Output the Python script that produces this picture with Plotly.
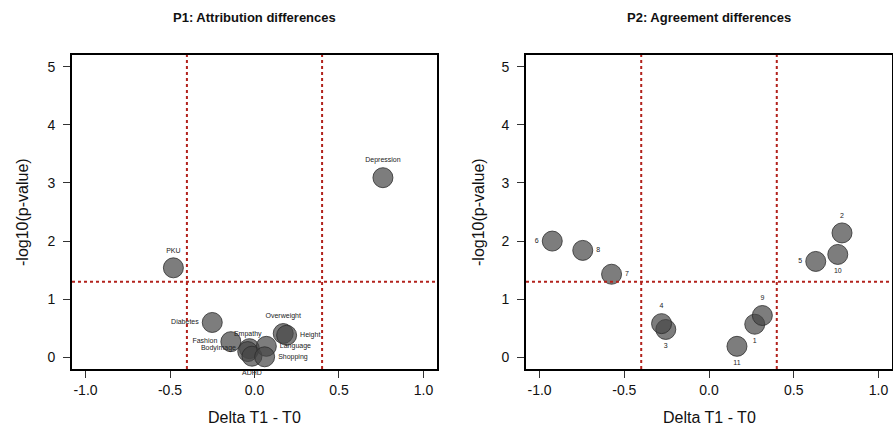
import plotly.graph_objects as go

# ---- Data ----
p1_labels = ["Depression", "PKU", "Diabetes", "Fashion", "Bodyimage", "Empathy",
             "ADHD", "Overweight", "Height", "Language", "Shopping"]
p1_delta = [0.76, -0.48, -0.25, -0.14, -0.03, -0.04, -0.015, 0.17, 0.19, 0.07, 0.06]
p1_logp = [3.09, 1.54, 0.60, 0.27, 0.15, 0.10, 0.02, 0.41, 0.38, 0.19, 0.01]
p1_pos = ["top center", "top center", "middle left", "middle left", "middle left",
          "top center", "bottom center", "top center", "middle right", "middle right",
          "middle right"]

p2_labels = ["1", "2", "3", "4", "5", "6", "7", "8", "9", "10", "11"]
p2_delta = [0.27, 0.785, -0.255, -0.28, 0.63, -0.925, -0.575, -0.745, 0.315, 0.76, 0.165]
p2_logp = [0.57, 2.14, 0.48, 0.58, 1.65, 2.00, 1.43, 1.84, 0.72, 1.77, 0.19]
p2_pos = ["bottom center", "top center", "bottom center", "top center", "middle left",
          "middle left", "middle right", "middle right", "top center", "bottom center",
          "bottom center"]

delta_thresholds = [-0.4, 0.4]
logp_threshold = 1.3

x_ticks = [-1.0, -0.5, 0.0, 0.5, 1.0]
x_ticklabels = ["-1.0", "-0.5", "0.0", "0.5", "1.0"]
y_ticks = [0, 1, 2, 3, 4, 5]

titles = ["P1: Attribution differences", "P2: Agreement differences"]
x_title = "Delta T1 - T0"
y_title = "-log10(p-value)"

# ---- Figure ----
W, H = 893, 437
FONT = "Liberation Sans, Arial, sans-serif"
fig = go.Figure()

marker = dict(size=20, color="rgba(70,70,70,0.7)",
              line=dict(color="rgba(45,45,45,0.8)", width=1))

fig.add_trace(go.Scatter(x=p1_delta, y=p1_logp, mode="markers+text", text=p1_labels,
                         textposition=p1_pos, marker=marker,
                         textfont=dict(size=7, color="#222", family=FONT),
                         xaxis="x", yaxis="y", showlegend=False, cliponaxis=False,
                         hoverinfo="skip"))
fig.add_trace(go.Scatter(x=p2_delta, y=p2_logp, mode="markers+text", text=p2_labels,
                         textposition=p2_pos, marker=marker,
                         textfont=dict(size=7, color="#222", family=FONT),
                         xaxis="x2", yaxis="y2", showlegend=False, cliponaxis=False,
                         hoverinfo="skip"))

dom_y = [1 - 369 / H, 1 - 55 / H]
dom_x1 = [72 / W, 437 / W]
dom_x2 = [526 / W, 892 / W]

axis_common = dict(showgrid=False, zeroline=False, showline=True, linecolor="black",
                   linewidth=2, mirror=True, ticks="outside", ticklen=7, tickwidth=1,
                   tickcolor="#333", tickfont=dict(size=14, family=FONT, color="#111"))

fig.update_layout(
    width=W, height=H, margin=dict(l=0, r=0, t=0, b=0),
    paper_bgcolor="white", plot_bgcolor="white",
    xaxis=dict(domain=dom_x1, range=[-1.08, 1.08], tickvals=x_ticks,
               ticktext=x_ticklabels, anchor="y", **axis_common),
    yaxis=dict(domain=dom_y, range=[-0.2, 5.2], tickvals=y_ticks, anchor="x",
               ticklabelstandoff=5, **axis_common),
    xaxis2=dict(domain=dom_x2, range=[-1.08, 1.08], tickvals=x_ticks,
                ticktext=x_ticklabels, anchor="y2", **axis_common),
    yaxis2=dict(domain=dom_y, range=[-0.2, 5.2], tickvals=y_ticks, anchor="x2",
                ticklabelstandoff=5, **axis_common),
)

red = "#b2221c"
shapes = []
for xr, yr in [("x", "y"), ("x2", "y2")]:
    for t in delta_thresholds:
        shapes.append(dict(type="line", xref=xr, yref=yr + " domain", x0=t, x1=t, y0=0, y1=1,
                           line=dict(color=red, width=2, dash="3px,3px")))
    shapes.append(dict(type="line", xref=xr + " domain", yref=yr, x0=0, x1=1,
                       y0=logp_threshold, y1=logp_threshold,
                       line=dict(color=red, width=2, dash="3px,3px")))
fig.update_layout(shapes=shapes)

ann = []
centers = [(dom_x1[0] + dom_x1[1]) / 2, (dom_x2[0] + dom_x2[1]) / 2]
ytitle_x = [22 / W, 478 / W]
for i in range(2):
    ann.append(dict(text="<b>" + titles[i] + "</b>", x=centers[i], y=1 - 18 / H,
                    xanchor="center", yanchor="middle",
                    xref="paper", yref="paper", showarrow=False,
                    font=dict(size=13, family=FONT, color="#111")))
    ann.append(dict(text=x_title, x=centers[i], y=1 - 417 / H, xref="paper", yref="paper",
                    xanchor="center", yanchor="middle",
                    showarrow=False, font=dict(size=16, family=FONT, color="#111")))
    ann.append(dict(text=y_title, x=ytitle_x[i], y=(dom_y[0] + dom_y[1]) / 2,
                    xanchor="center", yanchor="middle",
                    xref="paper", yref="paper", showarrow=False, textangle=-90,
                    font=dict(size=16, family=FONT, color="#111")))
fig.update_layout(annotations=ann)

fig.write_html("out.html", config={"displayModeBar": False, "staticPlot": True},
               post_script="document.body.style.margin='0';document.body.style.overflow='hidden';")
